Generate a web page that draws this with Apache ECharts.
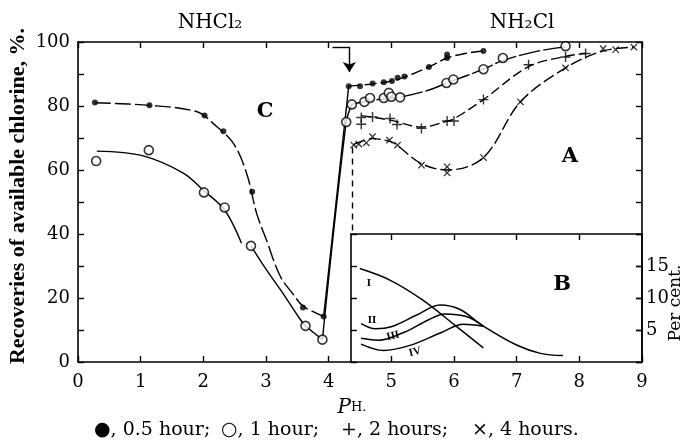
<!DOCTYPE html>
<html><head><meta charset="utf-8">
<script src="https://cdn.jsdelivr.net/npm/echarts@6/dist/echarts.min.js"></script>
<style>html,body{margin:0;padding:0;background:#fff}#c{width:691px;height:445px}</style>
</head><body><div id="c"></div>
<script>
// ---- Data ----
// Main panel: pH (x) vs recovery of available chlorine, % (y)
const halfHourPoints = [[0.27,81.1],[1.14,80.2],[2.02,77.0],[2.32,72.1],[2.78,53.2],[3.59,17.0],[3.92,14.2],
  [4.32,86.2],[4.50,86.2],[4.70,87.0],[4.88,87.4],[5.01,87.8],[5.10,88.8],[5.21,89.2],[5.60,92.2],[5.89,96.1],[5.89,95.0],[6.47,97.2]];
const oneHourPoints = [[0.29,62.8],[1.13,66.2],[2.01,53.0],[2.34,48.3],[2.76,36.3],[3.63,11.3],[3.90,7.0],
  [4.28,75.0],[4.37,80.5],[4.57,81.3],[4.66,82.5],[4.88,82.5],[4.96,84.1],[5.00,82.9],[5.14,82.7],[5.88,87.2],[5.99,88.3],[6.47,91.5],[6.78,95.0],[7.78,98.7]];
const twoHourPoints = [[4.52,76.4],[4.52,74.3],[4.70,76.6],[4.98,76.1],[5.09,74.2],[5.48,73.0],[5.89,75.3],[6.00,75.3],[6.47,82.0],[7.19,92.9],[7.78,95.3],[8.10,96.4]];
const fourHourPoints = [[4.40,67.8],[4.48,68.1],[4.60,68.5],[4.70,70.4],[4.97,69.3],[5.10,67.8],[5.48,61.5],[5.89,61.0],[5.89,59.1],[6.47,63.9],[7.06,81.3],[7.78,91.9],[8.38,97.9],[8.58,97.6],[8.87,98.4]];

// Fitted curves (as drawn in the figure)
const halfHourCurveLeft = [[0.27,81.0],[1.14,80.2],[1.90,78.2],[2.16,74.5],[2.48,68.3],[2.69,59.0],[2.85,46.5],[3.0,38.5],[3.23,26.7],[3.44,21.0],[3.59,17.5],[3.92,14.2]];
const halfHourRise = [[3.92,14.2],[4.32,86.2]];
const halfHourCurveRight = [[4.32,86.2],[4.70,86.9],[5.01,87.8],[5.21,89.0],[5.60,92.2],[5.89,95.0],[6.20,96.5],[6.47,97.2]];
const oneHourCurveLeft = [[0.30,65.9],[1.04,64.4],[1.68,59.0],[2.01,53.5],[2.34,47.5],[2.61,37.1]];
const oneHourCurveLeft2 = [[2.76,36.3],[3.0,29.0],[3.23,22.6],[3.55,13.2],[3.63,11.3],[3.90,7.0]];
const oneHourRise = [[3.90,7.0],[4.28,75.0],[4.37,80.5]];
const oneHourCurveRight = [[4.37,80.5],[4.60,81.5],[5.00,82.5],[5.20,83.0],[5.60,85.0],[5.90,87.3],[6.47,91.5],[6.78,94.2],[7.30,97.0],[7.78,98.5]];
const twoHourCurve = [[4.52,77.0],[4.70,76.5],[5.00,75.5],[5.48,73.4],[5.90,75.3],[6.00,76.0],[6.47,82.0],[7.19,92.3],[7.78,95.5],[8.10,96.4]];
const fourHourCurve = [[4.40,68.0],[4.70,69.8],[5.00,68.8],[5.10,67.6],[5.48,62.0],[5.89,60.0],[6.47,63.9],[7.06,81.3],[7.78,91.9],[8.38,97.2],[8.87,98.4]];

// Inset B: pH vs per cent
const curveI = [[4.50,14.6],[4.98,12.8],[5.50,9.7],[6.01,5.8],[6.47,2.2]];
const curveII = [[4.52,6.0],[4.75,5.2],[5.0,5.5],[5.4,7.3],[5.78,8.9],[6.1,8.2],[6.47,5.6],[7.0,2.65],[7.38,1.35],[7.74,1.0]];
const curveIII = [[4.52,3.7],[4.80,3.4],[5.2,4.6],[5.6,6.6],[5.85,7.5],[6.2,7.1],[6.47,5.6]];
const curveIV = [[4.52,2.8],[4.88,1.8],[5.3,2.6],[5.8,4.6],[6.15,5.9],[6.47,5.6]];

// Tick labels
const xTicks = [0,1,2,3,4,5,6,7,8,9];
const yLabels = [0,20,40,60,80,100];
const insetYLabels = [5,10,15];
const insetXTicks = [5,6,7,8];
const legendItems = ['●, 0.5 hour;', '○, 1 hour;', '+, 2 hours;', '×, 4 hours.'];

const serif = '"DejaVu Serif","Liberation Serif",serif';
const tserif = '"Liberation Serif","DejaVu Serif",serif';
const chart = echarts.init(document.getElementById('c'));
const plusPath = 'path://M4.3,0 H5.7 V4.3 H10 V5.7 H5.7 V10 H4.3 V5.7 H0 V4.3 H4.3 Z';
const axisLine = {show:true, onZero:false, lineStyle:{color:'#000', width:1.6}};
const tickIn = {show:true, inside:true, length:6, lineStyle:{color:'#000', width:1.4}};

function curve(data, dash, xi, yi, w) {
  return {type:'line', data:data, xAxisIndex:xi||0, yAxisIndex:yi||0, smooth:0.35, symbol:'none', silent:true,
    lineStyle:{color:'#000', width:w||1.4, type:dash||'solid'}, z:3};
}
function txt(x, y, s, font, rot, align) {
  return {type:'text', position:[x,y], rotation:rot||0,
    style:{text:s, font:font, fill:'#000', textAlign:align||'center', textVerticalAlign:'middle'}};
}
const legendX = [94, 221, 341, 472];

chart.setOption({
  animation:false,
  backgroundColor:'#fff',
  grid:[
    {left:78, top:42, width:564, height:320},
    {left:351, top:234, width:291, height:128}
  ],
  xAxis:[
    {gridIndex:0, type:'value', min:0, max:9, interval:1, position:'bottom', axisLine:axisLine, axisTick:tickIn,
      splitLine:{show:false}, axisLabel:{color:'#000', fontFamily:serif, fontSize:18, margin:11, customValues:xTicks}},
    {gridIndex:0, type:'value', min:0, max:9, interval:1, position:'top', axisLine:axisLine, axisTick:tickIn,
      splitLine:{show:false}, axisLabel:{show:false}},
    {gridIndex:1, type:'value', min:4.36, max:9, position:'top', axisLine:axisLine,
      axisTick:{show:true, inside:true, length:6, lineStyle:{color:'#000', width:1.4}, customValues:insetXTicks},
      splitLine:{show:false}, axisLabel:{show:false}}
  ],
  yAxis:[
    {gridIndex:0, type:'value', min:0, max:100, interval:10, position:'left', axisLine:axisLine, axisTick:tickIn,
      splitLine:{show:false}, axisLabel:{color:'#000', fontFamily:serif, fontSize:18, margin:8, customValues:yLabels}},
    {gridIndex:0, type:'value', min:0, max:100, interval:10, position:'right', axisLine:axisLine, axisTick:tickIn,
      splitLine:{show:false}, axisLabel:{show:false}},
    {gridIndex:1, type:'value', min:0, max:20, interval:5, position:'right', axisLine:axisLine, axisTick:tickIn,
      splitLine:{show:false}, axisLabel:{color:'#000', fontFamily:serif, fontSize:18, margin:4, customValues:insetYLabels}},
    {gridIndex:1, type:'value', min:0, max:20, interval:5, position:'left', axisLine:axisLine, axisTick:tickIn,
      splitLine:{show:false}, axisLabel:{show:false}}
  ],
  series:[
    curve(halfHourCurveLeft, [16,4]),
    curve(halfHourRise, 'solid'),
    curve(halfHourCurveRight, [12,4]),
    curve(oneHourCurveLeft, 'solid'),
    curve(oneHourCurveLeft2, 'solid'),
    curve(oneHourRise, 'solid'),
    curve(oneHourCurveRight, [22,3]),
    curve(twoHourCurve, [10,4]),
    curve(fourHourCurve, [12,4]),
    {type:'scatter', name:'0.5 hour', data:halfHourPoints, symbol:'circle', symbolSize:6, itemStyle:{color:'#000'}, z:5,
      markLine:{silent:true, animation:false, label:{show:false}, symbolSize:10,
        lineStyle:{color:'#000', width:1.4, type:'solid'},
        data:[
          [{coord:[4.06,98.5], symbol:'none'},{coord:[4.33,98.5], symbol:'none'}],
          [{coord:[4.33,98.5], symbol:'none'},{coord:[4.33,90.6], symbol:'arrow'}]
        ]}},
    {type:'scatter', name:'1 hour', data:oneHourPoints, symbol:'circle', symbolSize:9,
      itemStyle:{color:'#fff', borderColor:'#000', borderWidth:1.6}, z:5},
    {type:'scatter', name:'2 hours', data:twoHourPoints, symbol:plusPath, symbolSize:10, itemStyle:{color:'#000'}, z:5},
    {type:'scatter', name:'4 hours', data:fourHourPoints, symbol:plusPath, symbolSize:9, symbolRotate:45, itemStyle:{color:'#000'}, z:5,
      markLine:{silent:true, animation:false, label:{show:false}, symbol:'none',
        lineStyle:{color:'#000', width:1.4, type:[6,5]},
        data:[[{coord:[4.37,67]},{coord:[4.37,40]}]]}},
    curve(curveI, 'solid', 2, 2, 1.5),
    curve(curveII, 'solid', 2, 2, 1.5),
    curve(curveIII, 'solid', 2, 2, 1.5),
    curve(curveIV, 'solid', 2, 2, 1.5)
  ],
  graphic:[
    txt(18, 196, 'Recoveries of available chlorine, %.', 'bold 22px '+tserif, Math.PI/2),
    txt(676, 303, 'Per cent.', '17px '+serif, Math.PI/2),
    txt(210, 23, 'NHCl₂', '20px '+serif),
    txt(522, 23, 'NH₂Cl', '20px '+serif),
    txt(265, 112, 'C', 'bold 21px '+serif),
    txt(570, 157, 'A', 'bold 21px '+serif),
    txt(562, 285, 'B', 'bold 21px '+serif),
    txt(369, 283, 'I', 'bold 11px '+tserif),
    txt(372, 320, 'II', 'bold 11px '+tserif),
    txt(393, 336, 'III', 'bold 11px '+tserif, 0.25),
    txt(415, 352, 'IV', 'bold 11px '+tserif, 0.25),
    {type:'text', position:[352,408], style:{rich:{p:{font:'italic 20px '+serif, fill:'#000'}, h:{font:'13px '+serif, fill:'#000'}},
      text:'{p|P}{h|H.}', textAlign:'center', textVerticalAlign:'middle'}},
    txt(legendX[0], 430, legendItems[0], '19px '+serif, 0, 'left'),
    txt(legendX[1], 430, legendItems[1], '19px '+serif, 0, 'left'),
    txt(legendX[2], 430, legendItems[2], '19px '+serif, 0, 'left'),
    txt(legendX[3], 430, legendItems[3], '19px '+serif, 0, 'left')
  ]
});
</script></body></html>
